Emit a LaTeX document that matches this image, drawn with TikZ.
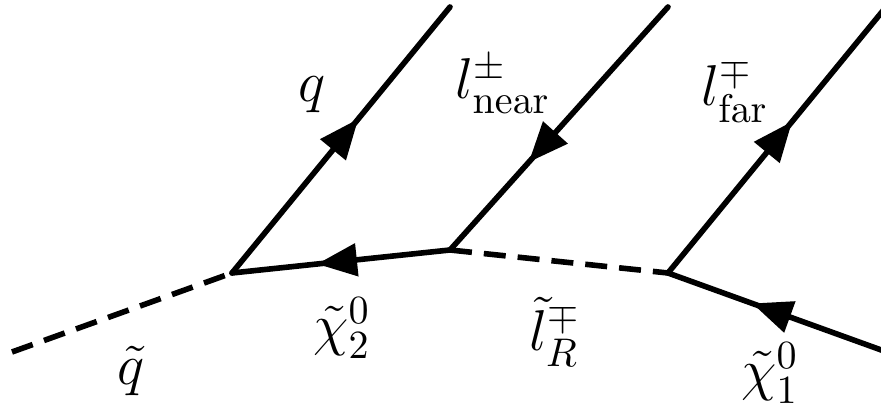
\documentclass[tikz,border=0pt]{standalone}
\usepackage{amssymb,amsmath}
\usepackage{tikz}
\usetikzlibrary{arrows.meta,decorations.markings}

\begin{document}
\begin{tikzpicture}[
    x=0.25pt, y=-0.25pt,
    every node/.style={font=\fontsize{14}{17}\selectfont, inner sep=0pt},
    fermion/.style={line width=1.4pt, line cap=round},
    scalar/.style={line width=1.4pt, dash pattern=on 5.5pt off 3pt},
    midarrow/.style={postaction={decorate},
      decoration={markings, mark=at position #1 with {\arrow{Triangle[length=10pt,width=8pt]}}}}
]
  \useasboundingbox (0,0) rectangle (881,405);
  \clip (0,0) rectangle (881,405);

  % Vertices of the decay chain
  \coordinate (v1) at (232,273);
  \coordinate (v2) at (450,250);
  \coordinate (v3) at (668,273);

  % Outer ends
  \coordinate (sqin)   at (12,352);
  \coordinate (qout)   at (450,7);
  \coordinate (lnear)  at (668,7);
  \coordinate (lfar)   at (886,7);
  \coordinate (chiout) at (884,351);

  % Scalar lines
  \draw[scalar] (sqin)--(v1);
  \draw[scalar] (v2)--(v3);

  % Fermion lines
  \draw[fermion, midarrow=0.58] (v1)--(qout);
  \draw[fermion, midarrow=0.61] (v2)--(v1);
  \draw[fermion, midarrow=0.64] (lnear)--(v2);
  \draw[fermion, midarrow=0.57] (v3)--(lfar);
  \draw[fermion, midarrow=0.61] (chiout)--(v3);

  % Labels
  \node (lq)     at (312,95)  {$q$};
  \node (lnearl) at (503,84)  {$l^{\pm}_{\mathrm{near}}$};
  \node (lfarl)  at (735,91)  {$l^{\mp}_{\mathrm{far}}$};
  \node (lsq)    at (131,371) {$\tilde q$};
  \node (lchi2)  at (342,328) {$\tilde\chi^0_2$};
  \node (lsl)    at (555,332) {$\tilde l^{\mp}_R$};
  \node (lchi1)  at (770,373) {$\tilde\chi^0_1$};
\end{tikzpicture}
\end{document}
